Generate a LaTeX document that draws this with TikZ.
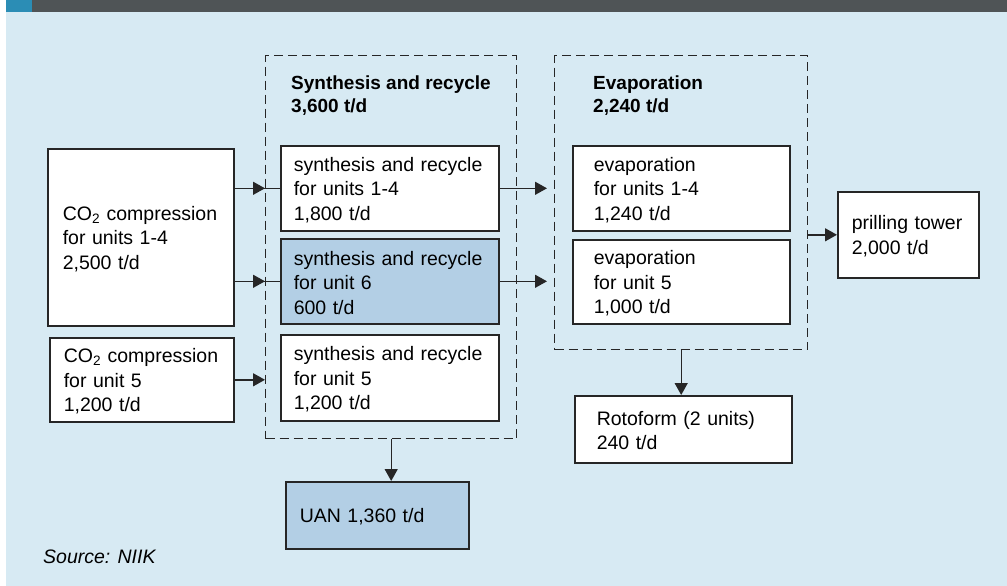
\documentclass[tikz,border=0pt]{standalone}
\usepackage{fontspec}
\setmainfont{Liberation Sans}
\usetikzlibrary{arrows.meta}

\definecolor{bgblue}{HTML}{D7EAF3}
\definecolor{barGrey}{HTML}{4F5456}
\definecolor{barCyan}{HTML}{2B8DB5}
\definecolor{boxBlue}{HTML}{B3CFE5}
\definecolor{edge}{HTML}{262626}

\tikzset{
  unitbox/.style={draw=edge, line width=1.6pt, fill=white, anchor=north west,
    inner ysep=0pt, align=left, font=\fontsize{19.5}{24.5}\selectfont,
    execute at begin node={\hyphenpenalty=10000\rule{0pt}{17pt}}},
  hilite/.style={fill=boxBlue},
  groupbox/.style={draw=edge, line width=1.4pt, dash pattern=on 9pt off 5pt,
    anchor=north west, inner sep=0pt},
  grouptitle/.style={anchor=north west, inner sep=0pt, align=left,
    font=\fontsize{19}{23}\selectfont\bfseries},
  conn/.style={draw=edge, line width=1.4pt},
  arr/.style={conn, -{Triangle[length=12pt,width=13pt]}},
}

\begin{document}
\begin{tikzpicture}[x=1pt, y=-1pt]
\useasboundingbox (0,0) rectangle (1007,586);

% page background and header strip
\fill[white] (0,0) rectangle (1007,586);
\fill[bgblue] (6,12) rectangle (1007,586);
\fill[barGrey] (6,0) rectangle (1007,12);
\fill[barCyan] (6,0) rectangle (32,12);

% process groups
\node[groupbox, minimum width=251pt, minimum height=383pt] (synbox) at (265,55) {};
\node[groupbox, minimum width=253pt, minimum height=294pt] (evbox) at (554,55) {};
\node[grouptitle] (syntitle) at (291,76) {Synthesis and recycle\\3,600 t/d};
\node[grouptitle] (evtitle) at (593,76) {Evaporation\\2,240 t/d};

% CO2 compression
\node[unitbox, minimum width=186pt, minimum height=177pt, inner xsep=15pt, text width=156pt]
  (co14) at (47,148) {CO\textsubscript{2} compression\\for units 1-4\\2,500 t/d};
\node[unitbox, minimum width=184pt, minimum height=84pt, inner xsep=14pt, text width=156pt]
  (co5) at (49,337) {CO\textsubscript{2} compression\\for unit 5\\1,200 t/d};

% synthesis units
\node[unitbox, minimum width=218pt, minimum height=85pt, inner xsep=13pt, text width=192pt]
  (s14) at (280,145) {synthesis and recycle\\for units 1-4\\1,800 t/d};
\node[unitbox, hilite, minimum width=218pt, minimum height=85pt, inner xsep=13pt, text width=192pt]
  (s6) at (280,238) {synthesis and recycle\\for unit 6\\600 t/d};
\node[unitbox, minimum width=218pt, minimum height=86pt, inner xsep=13pt, text width=192pt]
  (s5) at (280,334) {synthesis and recycle\\for unit 5\\1,200 t/d};

% evaporation units
\node[unitbox, minimum width=217pt, minimum height=85pt, inner xsep=21pt, text width=175pt]
  (ev14) at (572,145) {evaporation\\for units 1-4\\1,240 t/d};
\node[unitbox, minimum width=217pt, minimum height=84pt, inner xsep=21pt, text width=175pt]
  (ev5) at (572,239) {evaporation\\for unit 5\\1,000 t/d};

% products
\node[unitbox, minimum width=141pt, minimum height=86pt, inner xsep=14pt, text width=113pt]
  (pt) at (837,191) {prilling tower\\2,000 t/d};
\node[unitbox, minimum width=217pt, minimum height=67pt, inner xsep=22pt, text width=173pt]
  (roto) at (574,395) {Rotoform (2 units)\\240 t/d};
\node[unitbox, hilite, minimum width=183pt, minimum height=67pt, inner xsep=14pt, text width=155pt]
  (uan) at (285,481) {UAN 1,360 t/d};

% flows
\draw[conn] (co14.east |- s14.west) -- (s14.west);
\draw[arr] (co14.east |- s14.west) -- (synbox.west |- s14.west);
\draw[conn] (co14.east |- s6.west) -- (s6.west);
\draw[arr] (co14.east |- s6.west) -- (synbox.west |- s6.west);
\draw[arr] (co5.east) -- (synbox.west |- co5.east);

\draw[arr] (s14.east) -- ([xshift=-7pt]evbox.west |- s14.east);
\draw[arr] (s6.east) -- ([xshift=-7pt]evbox.west |- s6.east);

\draw[arr] (evbox.east |- pt.west) -- (pt.west);
\draw[arr] (synbox.south) -- (synbox.south |- uan.north);
\draw[arr] (evbox.south) -- (evbox.south |- roto.north);

% source line
\node[anchor=base west, inner sep=0pt, font=\fontsize{19.5}{24}\selectfont\itshape]
  (src) at (43,563) {Source: NIIK};
\end{tikzpicture}
\end{document}
